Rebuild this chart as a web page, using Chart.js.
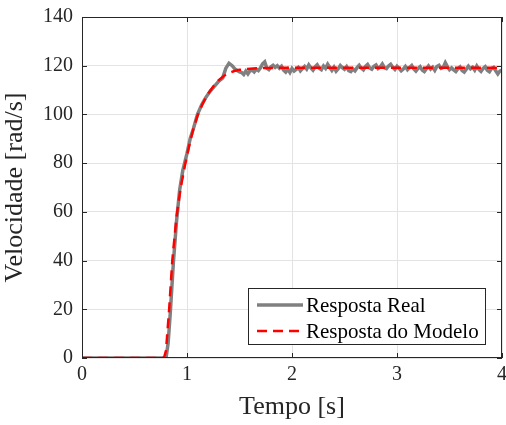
<!DOCTYPE html>
<html>
<head>
<meta charset="utf-8">
<script src="https://cdn.jsdelivr.net/npm/chart.js@4.4.1/dist/chart.umd.min.js"></script>
<style>
  html, body { margin: 0; padding: 0; background: #ffffff; }
  #wrap { width: 506px; height: 425px; }
</style>
</head>
<body>
<div id="wrap"><canvas id="speedChart"></canvas></div>
<script>
// tick labels
var xTicks = [0, 1, 2, 3, 4];
var yTicks = [0, 20, 40, 60, 80, 100, 120, 140];

// measured response (time in s, speed in rad/s)
var timeReal = [0, 0.80, 0.82, 0.84, 0.87, 0.90, 0.93, 0.96, 1.00, 1.03, 1.06, 1.10, 1.14, 1.18, 1.22, 1.26, 1.30, 1.34, 1.37, 1.40, 1.43, 1.46, 1.50];
var speedReal = [0, 0, 6, 18, 39, 56, 69, 77, 84, 90, 94, 100, 104, 107, 109.5, 111.5, 113.5, 115, 119, 121, 120, 118.5, 117.5];
// steady part sampled every 0.02 s from 1.52 s to 4.00 s
var steadyReal = [
    117.2, 116.4, 117.8, 116.6, 117.9, 118.3, 117.5, 118.6, 118.0, 119.1,
    120.8, 121.6, 119.0, 118.4, 119.6, 120.2, 119.3, 120.0, 119.0, 119.8,
    118.2, 117.4, 118.6, 117.2, 118.9, 117.8, 118.5, 119.3, 117.9, 118.8,
    119.7, 118.6, 120.3, 119.1, 118.2, 119.5, 120.4, 119.0, 118.4, 119.9,
    118.9, 120.6, 119.3, 118.1, 119.4, 117.8, 118.8, 120.1, 119.2, 118.5,
    119.6, 118.0, 117.6, 118.7, 117.9, 119.2, 120.2, 119.0, 118.3, 119.7,
    120.5, 119.1, 118.6, 119.8, 120.3, 118.9, 119.5, 120.7, 119.2, 118.8,
    119.9, 120.6, 119.4, 118.5, 119.8, 118.9, 117.9, 118.6, 119.7, 118.4,
    119.3, 120.1, 118.7, 117.8, 118.9, 119.6, 118.2, 117.6, 118.8, 119.9,
    118.6, 119.4, 118.1, 119.7, 120.2, 118.9, 119.3, 121.2, 119.6, 118.4,
    119.1, 118.3, 117.6, 118.8, 119.5, 118.0, 117.4, 118.6, 119.8, 118.7,
    119.4, 118.2, 119.9, 118.5, 117.7, 118.9, 119.6, 118.1, 117.5, 118.8,
    119.3, 117.9, 116.6, 117.8, 118.2
];

// model response
var timeModel = [0, 0.78, 0.80, 0.83, 0.86, 0.90, 0.94, 0.98, 1.02, 1.06, 1.10, 1.15, 1.20, 1.25, 1.30, 1.35, 1.40, 1.45, 1.50, 1.60, 1.70, 1.80, 2.00, 4.00];
var speedModel = [0, 0, 3, 20, 40, 58, 70, 79, 87, 94, 99.5, 104.5, 108.5, 111.5, 114, 115.8, 117, 117.8, 118.3, 118.8, 119.0, 119.1, 119.2, 119.2];

var seriesNames = ["Resposta Real", "Resposta do Modelo"];

document.addEventListener("DOMContentLoaded", function() {
    var realPts = timeReal.map(function(t, i) { return { x: t, y: speedReal[i] }; });
    steadyReal.forEach(function(v, i) {
        realPts.push({ x: Math.round((1.52 + i * 0.02) * 100) / 100, y: v });
    });
    var modelPts = timeModel.map(function(t, i) { return { x: t, y: speedModel[i] }; });

    var serif = "'Liberation Serif', 'Times New Roman', serif";
    var textColor = "#262626";

    // box around the plot, inward ticks and the legend
    var boxPlugin = {
        id: "boxPlugin",
        afterDatasetsDraw: function(chart) {
            var ctx = chart.ctx;
            var a = chart.chartArea;
            var xs = chart.scales.x, ys = chart.scales.y;
            ctx.save();
            ctx.strokeStyle = "#262626";
            ctx.lineWidth = 1;
            ctx.strokeRect(a.left + 0.5, a.top + 0.5, a.right - a.left - 1, a.bottom - a.top - 1);
            ctx.beginPath();
            xTicks.forEach(function(v) {
                var px = Math.round(xs.getPixelForValue(v)) + 0.5;
                ctx.moveTo(px, a.bottom); ctx.lineTo(px, a.bottom - 5);
                ctx.moveTo(px, a.top); ctx.lineTo(px, a.top + 5);
            });
            yTicks.forEach(function(v) {
                var py = Math.round(ys.getPixelForValue(v)) + 0.5;
                ctx.moveTo(a.left, py); ctx.lineTo(a.left + 5, py);
                ctx.moveTo(a.right, py); ctx.lineTo(a.right - 5, py);
            });
            ctx.stroke();

            // legend
            var lx = 248, ly = 288, lw = 237, lh = 56;
            ctx.fillStyle = "#ffffff";
            ctx.fillRect(lx, ly, lw, lh);
            ctx.strokeStyle = "#262626";
            ctx.strokeRect(lx + 0.5, ly + 0.5, lw, lh);
            ctx.font = "21px " + serif;
            ctx.textBaseline = "middle";
            ctx.fillStyle = "#000000";
            chart.data.datasets.forEach(function(ds, i) {
                var yy = ly + 17 + i * 26;
                ctx.beginPath();
                ctx.strokeStyle = ds.borderColor;
                ctx.lineWidth = ds.borderWidth;
                ctx.setLineDash(ds.borderDash || []);
                ctx.moveTo(lx + 9, yy);
                ctx.lineTo(lx + 55, yy);
                ctx.stroke();
                ctx.setLineDash([]);
                ctx.fillText(ds.label, lx + 58, yy + 1);
            });
            ctx.restore();
        }
    };

    var ctx = document.getElementById("speedChart").getContext("2d");
    new Chart(ctx, {
        type: "line",
        data: {
            datasets: [{
                label: seriesNames[0],
                data: realPts,
                borderColor: "#808080",
                borderWidth: 3.5,
                pointRadius: 0,
                tension: 0,
                order: 2
            }, {
                label: seriesNames[1],
                data: modelPts,
                borderColor: "#ff0000",
                borderWidth: 2.5,
                borderDash: [10, 6],
                pointRadius: 0,
                tension: 0,
                order: 1
            }]
        },
        plugins: [boxPlugin],
        options: {
            responsive: true,
            maintainAspectRatio: false,
            animation: false,
            layout: { padding: { top: 17, right: 4, bottom: 0, left: 0 } },
            plugins: {
                legend: { display: false },
                tooltip: { enabled: false }
            },
            scales: {
                x: {
                    type: "linear",
                    min: 0, max: 4,
                    afterBuildTicks: function(s) { s.ticks = xTicks.map(function(v) { return { value: v }; }); },
                    afterFit: function(s) { s.height = 67; s.paddingLeft = 0; s.paddingRight = 0; },
                    grid: { color: "#e3e3e3", drawTicks: false },
                    border: { display: false },
                    ticks: { color: textColor, font: { family: serif, size: 20 }, padding: 5, maxRotation: 0 },
                    title: { display: true, text: "Tempo [s]", color: textColor, font: { family: serif, size: 26 }, padding: { top: 0, bottom: 2 } }
                },
                y: {
                    min: 0, max: 140,
                    afterBuildTicks: function(s) { s.ticks = yTicks.map(function(v) { return { value: v }; }); },
                    afterFit: function(s) { s.width = 82; s.paddingTop = 0; s.paddingBottom = 0; },
                    grid: { color: "#e3e3e3", drawTicks: false },
                    border: { display: false },
                    ticks: { color: textColor, font: { family: serif, size: 20 }, padding: 9 },
                    title: { display: true, text: "Velocidade [rad/s]", color: textColor, font: { family: serif, size: 26 }, padding: { top: 0, bottom: 0 } }
                }
            }
        }
    });
});
</script>
</body>
</html>
